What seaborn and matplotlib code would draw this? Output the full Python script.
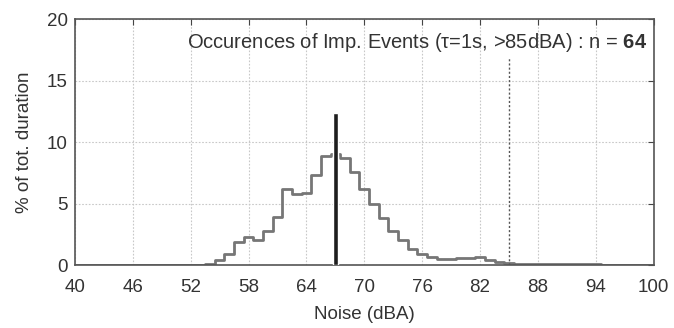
import numpy as np
import pandas as pd
import matplotlib
matplotlib.use("Agg")
import matplotlib.pyplot as plt
import seaborn as sns

# Histogram of noise levels (1 dBA bins, centred on integers)
noise_db = list(range(40, 101))
pct_duration = [0, 0, 0, 0, 0, 0, 0, 0, 0, 0,          # 40-49
                0, 0, 0, 0.03, 0.1, 0.4, 0.9, 1.9, 2.3, 2.0,   # 50-59
                2.75, 3.9, 6.2, 5.75, 5.85, 7.3, 8.85, 9.05, 8.7, 7.6,  # 60-69
                6.2, 4.95, 3.85, 2.8, 2.0, 1.3, 0.92, 0.68, 0.5, 0.46,  # 70-79
                0.54, 0.6, 0.62, 0.4, 0.24, 0.14, 0.12, 0.11, 0.1, 0.09,  # 80-89
                0.08, 0.07, 0.06, 0.05, 0.05, 0.04, 0.04, 0.03, 0.03, 0.02,  # 90-99
                0.02]  # 100
leq_db = [67.05]
leq_height = [12.4]
threshold_db = 85
n_events = 64
xticks = [40, 46, 52, 58, 64, 70, 76, 82, 88, 94, 100]
yticks = [0, 5, 10, 15, 20]

sns.set_style("white")
plt.rcParams['font.family'] = ['Liberation Sans', 'DejaVu Sans']
plt.rcParams['mathtext.fontset'] = 'custom'
plt.rcParams['mathtext.rm'] = 'Liberation Sans'
plt.rcParams['mathtext.it'] = 'Liberation Sans'
plt.rcParams['mathtext.bf'] = 'Liberation Sans:bold'
FS = 13.5

fig = plt.figure(figsize=(6.74, 3.28), dpi=100)
ax = fig.add_axes([0.111, 0.192, 0.859, 0.750])

df = pd.DataFrame({"noise": noise_db, "pct": pct_duration})
sns.histplot(data=df, x="noise", weights="pct", binwidth=1, binrange=(39.5, 100.5),
             element="step", fill=False, color="#767676", linewidth=2.0, ax=ax)

ax.bar(leq_db, leq_height, width=0.55, color="#1e1e1e", zorder=5)

ax.axvline(threshold_db, ymin=0, ymax=0.84, color="#555555", linestyle=(0, (1.5, 1.5)),
           linewidth=1.0, zorder=3)

ax.set_xlim(40, 100)
ax.set_ylim(0, 20)
ax.set_xticks(xticks)
ax.set_yticks(yticks)
ax.grid(True, color="#c8c8c8", linestyle=(0, (1.5, 1.5)), linewidth=0.8)
ax.tick_params(direction="in", top=True, right=True, length=4, color="#444444",
               labelsize=FS, labelcolor="#333333")
ax.tick_params(axis="x", pad=10)
ax.tick_params(axis="y", pad=5)
for s in ax.spines.values():
    s.set_color("#555555")
    s.set_linewidth(1.2)

ax.set_xlabel("Noise (dBA)", fontsize=FS, color="#333333", labelpad=7)
ax.set_ylabel("% of tot. duration", fontsize=FS, color="#333333", labelpad=10)

ax.text(0.988, 0.95,
        "Occurences of Imp. Events (\u03c4=1s, >85dBA) : n = " + r"$\mathbf{%d}$" % n_events,
        transform=ax.transAxes, ha="right", va="top", fontsize=14.5, color="#333333")

fig.savefig("out.png", dpi=100)
